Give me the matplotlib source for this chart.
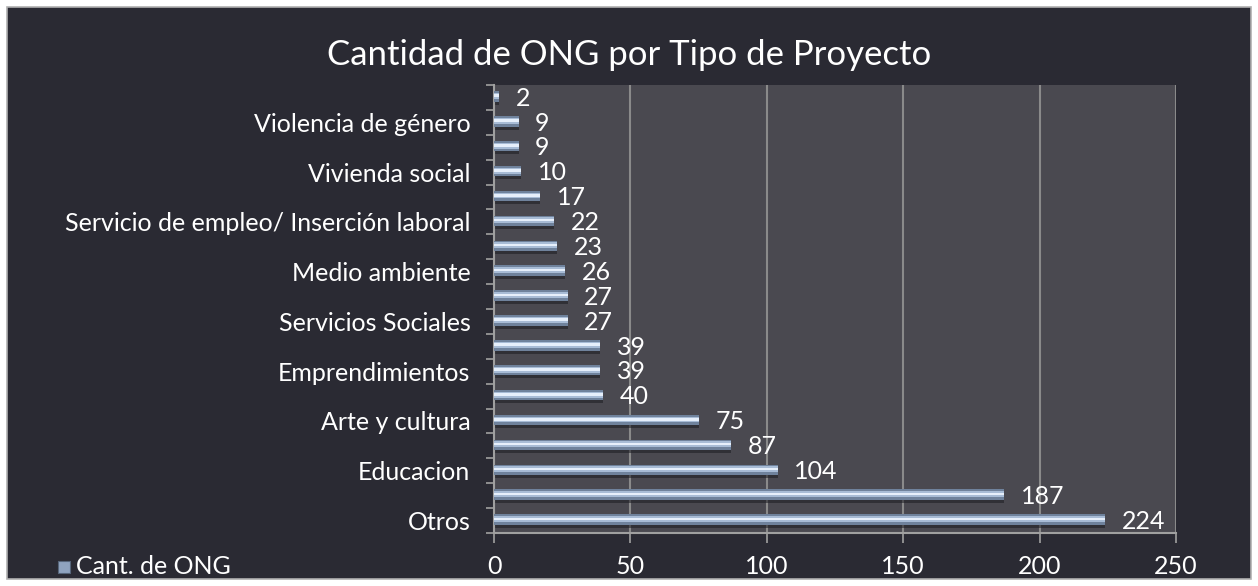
import numpy as np
import matplotlib.pyplot as plt
from matplotlib.patches import Rectangle

# datos (de abajo hacia arriba, como en el grafico original)
categorias = ['Otros', '', 'Educacion', '', 'Arte y cultura', '', 'Emprendimientos', '',
              'Servicios Sociales', '', 'Medio ambiente', '', 'Servicio de empleo/ Inserción laboral', '',
              'Vivienda social', '', 'Violencia de género', '']
valores = [224, 187, 104, 87, 75, 40, 39, 39, 27, 27, 26, 23, 22, 17, 10, 9, 9, 2]
ticks_x = [0, 50, 100, 150, 200, 250]

fuente = ['Lato', 'DejaVu Sans']
plt.rcParams['font.family'] = fuente

W, H = 1258, 586
fig = plt.figure(figsize=(W / 100, H / 100), dpi=100, facecolor='white')

# fondo oscuro con marco claro
fondo = Rectangle((7 / W, 7 / H), 1 - 14 / W, 1 - 14 / H, transform=fig.transFigure,
                  facecolor='#2a2a33', edgecolor='#b0b0b0', linewidth=1.2, zorder=-10)
fig.add_artist(fondo)

# area del grafico: x de 494 a 1176 px, y de 85 a 533 px
ax = fig.add_axes([494 / W, (H - 533) / H, (1176 - 494) / W, (533 - 85) / H])
ax.set_facecolor('#4a4950')

y = np.arange(len(valores))
yb = y + 0.04

# barras con efecto "cilindro"
ax.barh(yb - 0.12, valores, height=0.42, color='#1c1c22', alpha=0.55, zorder=2)
ax.barh(yb, valores, height=0.42, color='#6f829c', linewidth=0, zorder=3)
ax.barh(yb + 0.02, valores, height=0.24, color='#a8bcd6', linewidth=0, zorder=4)
ax.barh(yb + 0.03, valores, height=0.1, color='#e6effb', linewidth=0, zorder=5)

for yi, v in zip(y, valores):
    ax.annotate(str(v), (v, yi - 0.03), xytext=(12, 0), textcoords='offset points',
                color='white', fontsize=18, va='center', ha='left', zorder=6)

ax.set_xlim(0, 250)
ax.set_ylim(-0.5, len(valores) - 0.5)
ax.set_xticks(ticks_x)
ax.set_xticklabels([str(t) for t in ticks_x], color='white', fontsize=18)
ax.set_yticks(y)
ax.set_yticklabels(categorias, color='white', fontsize=18)
ax.tick_params(axis='y', which='major', length=0, pad=17)
ax.set_yticks(np.arange(-0.5, len(valores), 1), minor=True)
ax.tick_params(axis='y', which='minor', length=6, color='#a0a0a0', width=1.2)
ax.tick_params(axis='x', length=7, color='#a0a0a0', width=1.2, pad=9)

ax.xaxis.grid(True, color='#8a8a8a', linewidth=1.5, zorder=1)
ax.set_axisbelow(True)
for lado in ['top', 'right']:
    ax.spines[lado].set_visible(False)
for lado in ['left', 'bottom']:
    ax.spines[lado].set_color('#a0a0a0')
    ax.spines[lado].set_linewidth(1.5)

fig.text(0.5, 1 - 55 / H, 'Cantidad de ONG por Tipo de Proyecto', color='white',
         fontsize=25, ha='center', va='center')

# leyenda
fig.add_artist(Rectangle((58 / W, 1 - 573 / H), 12 / W, 12 / H, transform=fig.transFigure,
                         facecolor='#8fa3bf', edgecolor='#56657a', linewidth=0.8))
fig.text(76 / W, 1 - 567 / H, 'Cant. de ONG', color='white', fontsize=18, ha='left', va='center')

fig.savefig('out.png', dpi=100, facecolor=fig.get_facecolor())
